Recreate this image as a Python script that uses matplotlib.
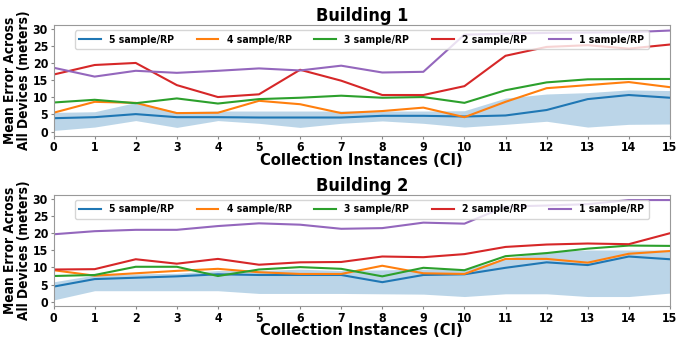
import numpy as np
import matplotlib
matplotlib.use("Agg")
import matplotlib.pyplot as plt

ci = np.arange(16)
labels = ['5 sample/RP', '4 sample/RP', '3 sample/RP', '2 sample/RP', '1 sample/RP']

# Building 1 mean error per sample count
b1_s5 = [3.9, 4.2, 5.1, 4.2, 4.2, 4.1, 4.1, 4.1, 4.6, 4.6, 4.4, 4.7, 6.3, 9.5, 10.7, 9.9]
b1_s4 = [5.5, 8.7, 8.4, 5.4, 5.5, 9.0, 8.0, 5.4, 6.0, 7.0, 4.2, 8.7, 12.7, 13.6, 14.5, 13.0]
b1_s3 = [8.5, 9.3, 8.3, 9.7, 8.2, 9.5, 9.9, 10.5, 9.9, 10.1, 8.4, 12.1, 14.4, 15.3, 15.4, 15.4]
b1_s2 = [16.7, 19.5, 20.1, 13.6, 10.1, 10.9, 18.1, 14.9, 10.7, 10.7, 13.3, 22.2, 24.8, 25.3, 24.3, 25.5]
b1_s1 = [18.7, 16.1, 17.8, 17.2, 17.8, 18.5, 17.9, 19.3, 17.3, 17.5, 28.4, 28.7, 28.9, 29.0, 29.1, 29.6]
b1_lo = [0.3, 1.3, 3.2, 1.2, 3.2, 2.4, 1.2, 2.4, 3.1, 2.4, 1.3, 2.1, 3.0, 1.3, 2.1, 2.2]
b1_hi = [5.6, 5.8, 8.5, 5.8, 6.0, 6.0, 6.0, 6.0, 6.0, 6.0, 6.1, 9.8, 11.0, 11.4, 12.2, 12.0]

# Building 2
b2_s5 = [4.4, 6.6, 7.0, 7.4, 8.0, 7.8, 7.8, 7.8, 5.7, 7.8, 8.0, 9.9, 11.5, 10.7, 13.2, 12.4]
b2_s4 = [9.2, 7.6, 8.3, 9.0, 9.6, 8.6, 8.1, 8.1, 10.5, 8.3, 8.1, 12.5, 12.5, 11.4, 14.0, 14.8]
b2_s3 = [7.5, 7.8, 10.2, 10.2, 7.5, 9.4, 10.1, 9.6, 7.4, 9.9, 9.2, 13.3, 14.2, 15.5, 16.4, 16.3]
b2_s2 = [9.4, 9.5, 12.4, 11.1, 12.5, 10.8, 11.5, 11.6, 13.2, 13.0, 13.9, 16.0, 16.7, 17.0, 16.8, 20.0]
b2_s1 = [19.7, 20.6, 21.0, 21.0, 22.1, 22.9, 22.5, 21.3, 21.5, 23.1, 22.8, 27.8, 28.1, 28.5, 29.7, 29.7]
b2_lo = [0.5, 3.2, 3.2, 3.2, 3.2, 2.4, 2.4, 2.4, 2.3, 2.2, 1.5, 2.3, 2.3, 1.5, 1.5, 2.5]
b2_hi = [5.8, 7.8, 8.1, 8.3, 9.1, 9.1, 9.5, 9.1, 9.3, 9.5, 9.3, 12.7, 14.6, 15.1, 15.1, 15.1]

buildings = [
    ('Building 1', [b1_s5, b1_s4, b1_s3, b1_s2, b1_s1], b1_lo, b1_hi),
    ('Building 2', [b2_s5, b2_s4, b2_s3, b2_s2, b2_s1], b2_lo, b2_hi),
]

# the original figure looks horizontally squeezed, condensed type gets close
plt.rcParams['font.stretch'] = 'condensed'

fig = plt.figure(figsize=(6.78, 3.39), dpi=100)
boxes = [[0.079, 0.599, 0.909, 0.327], [0.079, 0.097, 0.909, 0.328]]

for box, (title, series, lo, hi) in zip(boxes, buildings):
    ax = fig.add_axes(box)
    ax.fill_between(ci, lo, hi, color='C0', alpha=0.3, linewidth=0)
    for i, (s, lab) in enumerate(zip(series, labels)):
        ax.plot(ci, s, color='C%d' % i, linewidth=1.5, label=lab)
    ax.set_xlim(0, 15)
    ax.set_ylim(-1.3, 31.2)
    ax.set_xticks(ci)
    ax.set_yticks([0, 5, 10, 15, 20, 25, 30])
    for t in ax.get_xticklabels() + ax.get_yticklabels():
        t.set_fontweight('bold')
        t.set_fontsize(8.8)
    ax.tick_params(length=2.5, pad=1.5, color='#888888')
    for sp in ax.spines.values():
        sp.set_color('#999999')
    ax.set_title(title, fontsize=13, fontweight='bold', pad=3)
    ax.set_xlabel('Collection Instances (CI)', fontsize=11.8, fontweight='bold', labelpad=-1)
    ax.set_ylabel('Mean Error Across\nAll Devices (meters)', fontsize=9.8, fontweight='bold',
                  linespacing=1.05)
    ax.yaxis.set_label_coords(-0.036, 0.5)
    ax.legend(loc='upper center', ncol=5, prop={'weight': 'bold', 'size': 7.5},
              bbox_to_anchor=(0.5, 0.98), borderaxespad=0.3, handlelength=2.1,
              columnspacing=2.15, fancybox=True)

fig.savefig('out.png', dpi=100)
